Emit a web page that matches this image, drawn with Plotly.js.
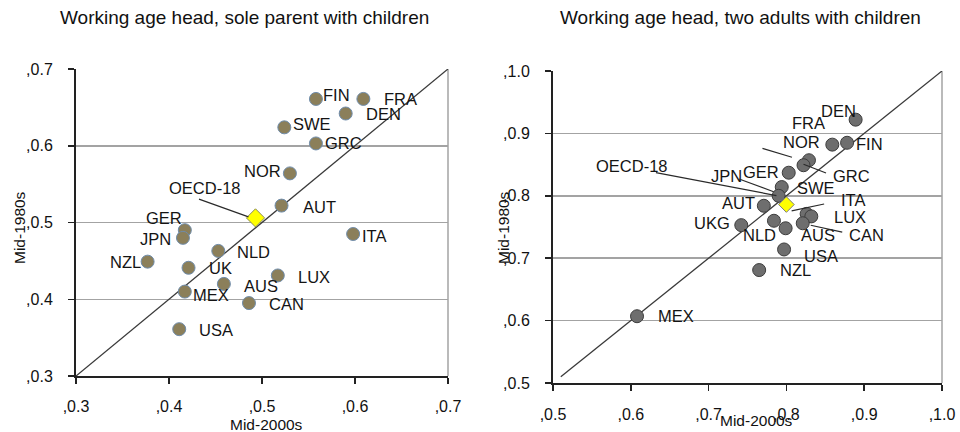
<!DOCTYPE html>
<html>
<head>
<meta charset="utf-8">
<script src="https://cdn.plot.ly/plotly-3.0.1.min.js"></script>
<style>html,body{margin:0;padding:0;background:#fff;}#chart{width:960px;height:432px;}</style>
</head>
<body>
<div id="chart"></div>
<script>
// ---------- DATA ----------
var soleCountries = ["FIN","FRA","DEN","SWE","GRC","NOR","AUT","ITA","GER","JPN","NZL","NLD","UK","LUX","AUS","MEX","CAN","USA"];
var sole2000s     = [0.558,0.609,0.590,0.524,0.558,0.530,0.521,0.598,0.417,0.415,0.377,0.453,0.421,0.517,0.459,0.417,0.486,0.411];
var sole1980s     = [0.661,0.661,0.642,0.624,0.603,0.564,0.522,0.485,0.490,0.480,0.449,0.463,0.441,0.431,0.420,0.410,0.395,0.361];
var soleOECD      = {label:"OECD-18", x:0.493, y:0.506};

var twoCountries = ["DEN","FIN","FRA","NOR","GRC","GER","SWE","JPN","AUT","ITA","LUX","CAN","AUS","NLD","UKG","USA","NZL","MEX"];
var two2000s     = [0.889,0.878,0.859,0.829,0.822,0.803,0.794,0.790,0.771,0.826,0.832,0.821,0.799,0.784,0.742,0.797,0.765,0.608];
var two1980s     = [0.922,0.885,0.882,0.857,0.849,0.837,0.814,0.800,0.784,0.771,0.767,0.756,0.748,0.760,0.753,0.714,0.681,0.607];
var twoOECD      = {label:"OECD-18", x:0.800, y:0.786};

var leftTicks  = [0.3,0.4,0.5,0.6,0.7];
var leftTickText = [",0.3",",0.4",",0.5",",0.6",",0.7"];
var rightTicks = [0.5,0.6,0.7,0.8,0.9,1.0];
var rightTickText = [",0.5",",0.6",",0.7",",0.8",",0.9",",1.0"];
var diagLeft  = [0.3, 0.7];
var diagRight = [0.51, 1.0];

var titleLeft  = "Working age head, sole parent with children";
var titleRight = "Working age head, two adults with children";
var xTitle = "Mid-2000s";
var yTitle = "Mid-1980s";

// ---------- LABEL PLACEMENT (pixels: anchor, dx, dy-up) ----------
var soleLabelPos = {
  FIN:["left",5,4], FRA:["left",19,0], DEN:["left",18,0], SWE:["left",7,3], GRC:["left",7,0],
  NOR:["right",-7,2], AUT:["left",19,-1], ITA:["left",7,-2], GER:["right",-1,12], JPN:["right",-10,-1],
  NZL:["right",-5,0], NLD:["left",17,-1], UK:["left",18,0], LUX:["left",18,-2], AUS:["left",18,-2],
  MEX:["left",6,-3], CAN:["left",18,-1], USA:["left",18,-1]
};
var soleOECDPos = ["center",-50,30];
var twoLabelPos = {
  DEN:["center",-17,9], FIN:["left",7,-1], FRA:["center",-24,22], NOR:["center",-7,18], GRC:["left",27,-11],
  GER:["right",-8,1], SWE:["left",13,-1], JPN:["right",-35,20], AUT:["right",-7,3], ITA:["left",32,14],
  LUX:["left",21,-1], CAN:["left",44,-12], AUS:["left",13,-7], NLD:["center",-14,-14], UKG:["right",-9,2],
  USA:["left",18,-7], NZL:["left",19,0], MEX:["left",19,0]
};
var twoOECDPos = ["center",-154,39];
// leaders: [country, headShiftX, headShiftYup, tailAx, tailAy(down)]
var soleLeaders = [["OECD-18",-7,1,-50,-18]];
var twoLeaders = [["OECD-18",-10,9,-121,-23],["JPN",-5,4,-35,-13],["NOR",-17,3,-30,-9],
                  ["GRC",0,1,23,9],["ITA",-15,3,33,-7],["CAN",8,-2,32,7]];

// ---------- BUILD ----------
var FONT = 'Arial, "Liberation Sans", sans-serif';
var TXT = '#141414';

var traces = [
  {x: diagLeft, y: diagLeft, xaxis:'x', yaxis:'y', mode:'lines', line:{color:'#3a3a3a', width:1.3}, hoverinfo:'skip'},
  {x: sole2000s, y: sole1980s, xaxis:'x', yaxis:'y', mode:'markers',
   marker:{size:13, color:'#8b7f5a', line:{color:'#6f8cab', width:1}}},
  {x:[soleOECD.x], y:[soleOECD.y], xaxis:'x', yaxis:'y', mode:'markers',
   marker:{symbol:'diamond', size:14, color:'#ffff00', line:{color:'#8a8a5a', width:1}}},
  {x: diagRight, y: diagRight, xaxis:'x2', yaxis:'y2', mode:'lines', line:{color:'#3a3a3a', width:1.3}, hoverinfo:'skip'},
  {x: two2000s, y: two1980s, xaxis:'x2', yaxis:'y2', mode:'markers',
   marker:{size:13, color:'#6e6e6e', line:{color:'#3c3c3c', width:1}}},
  {x:[twoOECD.x], y:[twoOECD.y], xaxis:'x2', yaxis:'y2', mode:'markers',
   marker:{symbol:'diamond', size:12, color:'#ffff00', line:{color:'#7a7a7a', width:1}}}
];

var ann = [];
function addLabels(names, xs, ys, pos, xr, yr){
  names.forEach(function(n,i){
    var p = pos[n];
    ann.push({xref:xr, yref:yr, x:xs[i], y:ys[i], text:n, showarrow:false,
      xanchor:p[0], yanchor:'middle', xshift:p[1], yshift:p[2],
      font:{family:FONT, size:16.5, color:TXT}});
  });
}
addLabels(soleCountries, sole2000s, sole1980s, soleLabelPos, 'x', 'y');
addLabels([soleOECD.label],[soleOECD.x],[soleOECD.y],{"OECD-18":soleOECDPos},'x','y');
addLabels(twoCountries, two2000s, two1980s, twoLabelPos, 'x2', 'y2');
addLabels([twoOECD.label],[twoOECD.x],[twoOECD.y],{"OECD-18":twoOECDPos},'x2','y2');

function addLeaders(list, names, xs, ys, oecd, xr, yr){
  list.forEach(function(l){
    var px, py;
    if(l[0]==="OECD-18"){px=oecd.x; py=oecd.y;}
    else {var i=names.indexOf(l[0]); px=xs[i]; py=ys[i];}
    ann.push({xref:xr, yref:yr, x:px, y:py, text:' ', showarrow:true, arrowhead:0,
      arrowwidth:1.2, arrowcolor:'#2a2a2a', standoff:0, startstandoff:0,
      xshift:l[1], yshift:l[2], ax:l[3], ay:l[4], borderpad:0, font:{size:1}});
  });
}
addLeaders(soleLeaders, soleCountries, sole2000s, sole1980s, soleOECD, 'x', 'y');
addLeaders(twoLeaders, twoCountries, two2000s, two1980s, twoOECD, 'x2', 'y2');

// titles
ann.push({xref:'paper', yref:'paper', x:245/960, y:1-18/432, text:titleLeft, showarrow:false,
  xanchor:'center', yanchor:'middle', font:{family:FONT, size:19, color:'#111'}});
ann.push({xref:'paper', yref:'paper', x:740/960, y:1-18/432, text:titleRight, showarrow:false,
  xanchor:'center', yanchor:'middle', font:{family:FONT, size:19, color:'#111'}});
// axis titles
ann.push({xref:'paper', yref:'paper', x:266/960, y:1-424/432, text:xTitle, showarrow:false,
  xanchor:'center', yanchor:'middle', font:{family:FONT, size:15.5, color:'#111'}});
ann.push({xref:'paper', yref:'paper', x:756/960, y:1-420/432, text:xTitle, showarrow:false,
  xanchor:'center', yanchor:'middle', font:{family:FONT, size:15.5, color:'#111'}});
ann.push({xref:'paper', yref:'paper', x:19/960, y:1-228/432, text:yTitle, showarrow:false, textangle:-90,
  xanchor:'center', yanchor:'middle', font:{family:FONT, size:15.5, color:'#111'}});
ann.push({xref:'paper', yref:'paper', x:503/960, y:1-228/432, text:yTitle, showarrow:false, textangle:-90,
  xanchor:'center', yanchor:'middle', font:{family:FONT, size:15.5, color:'#111'}});

function xax(dom, rng, tv, tt, anchor, standoff){
  return {domain:dom, range:rng, anchor:anchor, tickvals:tv, ticktext:tt, showgrid:false, zeroline:false,
    showline:true, linecolor:'#222', linewidth:2, ticks:'outside', ticklen:6, tickwidth:1.5, tickcolor:'#222',
    ticklabelstandoff:standoff, tickfont:{family:FONT, size:16, color:'#111'}, fixedrange:true};
}
function yax(dom, rng, tv, tt, anchor){
  return {domain:dom, range:rng, anchor:anchor, tickvals:tv, ticktext:tt, showgrid:true, gridcolor:'#a3a3a3',
    gridwidth:1.5, zeroline:false, showline:true, linecolor:'#222', linewidth:2, ticks:'outside', ticklen:6,
    tickwidth:1.5, tickcolor:'#222', ticklabelstandoff:12, tickfont:{family:FONT, size:16, color:'#111'}, fixedrange:true};
}

var layout = {
  width:960, height:432, margin:{l:0, r:0, t:0, b:0}, paper_bgcolor:'#fff', plot_bgcolor:'#fff',
  showlegend:false, font:{family:FONT},
  xaxis: xax([76/960, 448/960], [0.3,0.7], leftTicks, leftTickText, 'y', 9),
  yaxis: yax([56/432, 363/432], [0.3,0.7], leftTicks, leftTickText, 'x'),
  xaxis2: xax([553/960, 942/960], [0.5,1.0], rightTicks, rightTickText, 'y2', 10),
  yaxis2: yax([49/432, 361/432], [0.5,1.0], rightTicks, rightTickText, 'x2'),
  shapes: [
    {type:'line', xref:'x domain', yref:'y domain', x0:1, x1:1, y0:0, y1:1, line:{color:'#a3a3a3', width:1.5}, layer:'below'},
    {type:'line', xref:'x2 domain', yref:'y2 domain', x0:1, x1:1, y0:0, y1:1, line:{color:'#a3a3a3', width:1.5}, layer:'below'}
  ],
  annotations: ann
};

Plotly.newPlot('chart', traces, layout, {displayModeBar:false, staticPlot:true});
</script>
</body>
</html>
